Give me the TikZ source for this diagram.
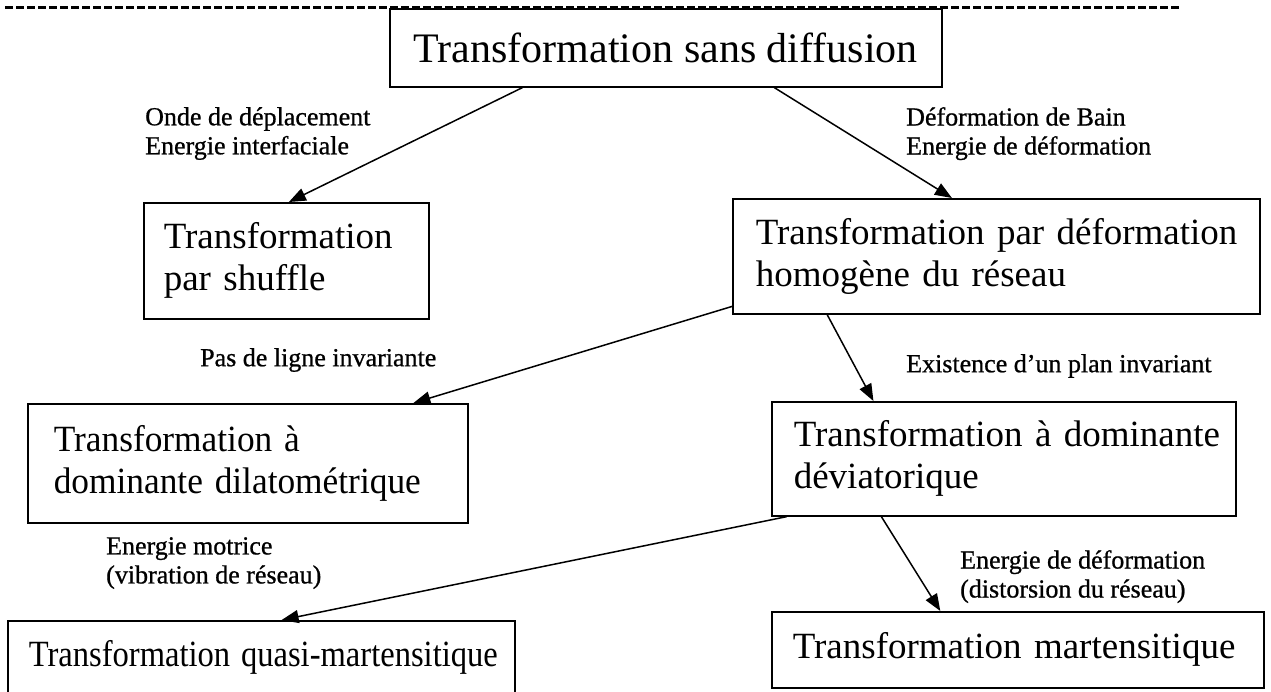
\documentclass[tikz,border=0pt]{standalone}
\usepackage{fontspec}
\setmainfont{Liberation Serif}
\newfontfamily\lblfont[FakeBold=0.8]{Liberation Serif}
\usetikzlibrary{arrows.meta,calc}
\begin{document}
\begin{tikzpicture}[x=1pt,y=-1pt]
\tikzset{
  box/.style={draw, line width=1.6pt, anchor=north west, inner sep=0pt, align=left,
              font=\fontsize{37}{42}\selectfont},
  lbl/.style={anchor=north west, inner sep=0pt, align=left,
              font=\lblfont\fontsize{26}{29}\selectfont},
  arr/.style={line width=1.5pt, -{Triangle[length=17pt,width=13pt]}},
  rule/.style={line width=3pt, dash pattern=on 8pt off 3pt}
}
\useasboundingbox (0,0) rectangle (1271,691);
\coordinate (r0) at (5,7);
\coordinate (r1) at (1180,7);
\draw[rule] (r0) -- (r1);

% boxes
\node[box, align=center, minimum width=552pt, minimum height=78pt,
      font=\fontsize{42}{46}\selectfont, fill=white] (t) at (389,8) {Transformation sans diffusion};
\node[box, minimum width=285pt, minimum height=116pt, text width=245pt] (s) at (143,202)
      {\mbox{Transformation}\\\mbox{par shuffle}};
\node[box, minimum width=527pt, minimum height=115pt, text width=481pt] (h) at (732,198)
      {\mbox{Transformation par déformation}\\\mbox{homogène du réseau}};
\node[box, minimum width=440pt, minimum height=119pt, text width=388pt] (d) at (27,403)
      {\scalebox{0.955}[1]{\mbox{Transformation à}}\\\scalebox{0.955}[1]{\mbox{dominante dilatométrique}}};
\node[box, minimum width=464pt, minimum height=114pt, text width=420pt] (v) at (771,401)
      {\mbox{Transformation à dominante}\\\mbox{déviatorique}};
\node[box, minimum width=507pt, minimum height=73pt, text width=465pt] (q) at (7,620)
      {\scalebox{0.88}[1]{\mbox{Transformation quasi-martensitique}}};
\node[box, minimum width=492pt, minimum height=76pt, text width=450pt] (m) at (771,611)
      {\mbox{Transformation martensitique}};

% labels
\node[lbl] (l1) at (145,107) {Onde de déplacement\\Energie interfaciale};
\node[lbl] (l2) at (906,107) {Déformation de Bain\\Energie de déformation};
\node[lbl] (l3) at (200,348) {Pas de ligne invariante};
\node[lbl] (l4) at (906,354) {Existence d’un plan invariant};
\node[lbl] (l5) at (106,537) {Energie motrice\\(vibration de réseau)};
\node[lbl] (l6) at (960,550) {Energie de déformation\\(distorsion du réseau)};

% connectors
\draw[arr] ($(t.south west)!0.241!(t.south east)$) -- ($(s.north west)!0.509!(s.north east)$);
\draw[arr] ($(t.south west)!0.696!(t.south east)$) -- ($(h.north west)!0.416!(h.north east)$);
\draw[arr] ($(h.north west)!0.93!(h.south west)$) -- ($(d.north west)!0.875!(d.north east)$);
\draw[arr] ($(h.south west)!0.18!(h.south east)$) -- ($(v.north west)!0.22!(v.north east)$);
\draw[arr] ($(v.south west)!0.034!(v.south east)$) -- ($(q.north west)!0.54!(q.north east)$);
\draw[arr] ($(v.south west)!0.237!(v.south east)$) -- ($(m.north west)!0.343!(m.north east)$);
\end{tikzpicture}
\end{document}
